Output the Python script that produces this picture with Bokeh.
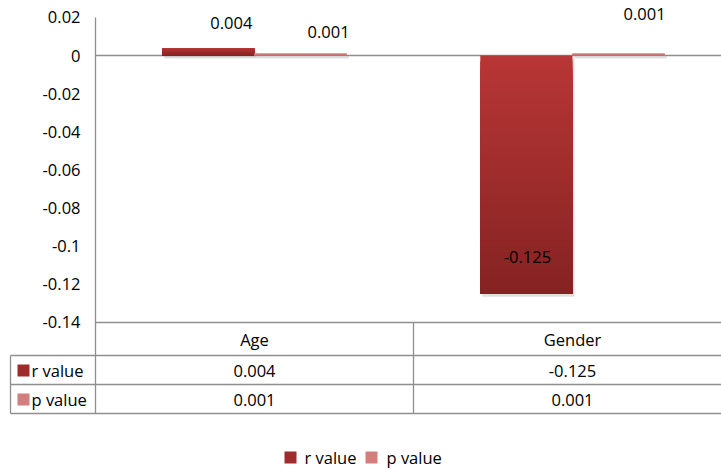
import numpy as np
from bokeh.plotting import figure
from bokeh.models import Range1d
from bokeh.core.properties import value
from bokeh.embed import file_html
from bokeh.resources import INLINE

# ---- data ----
categories = ["Age", "Gender"]
series_names = ["r value", "p value"]
r_values = [0.004, -0.125]
p_values = [0.001, 0.001]
y_ticks = [0.02, 0.0, -0.02, -0.04, -0.06, -0.08, -0.1, -0.12, -0.14]
y_tick_labels = ["0.02", "0", "-0.02", "-0.04", "-0.06", "-0.08", "-0.1", "-0.12", "-0.14"]
r_labels = ["0.004", "-0.125"]
p_labels = ["0.001", "0.001"]

# ---- layout (pixels) ----
W, H = 721, 470
PLOT_LEFT = 95          # x of the value axis
CAT_PX = 318            # width of one category slot
Y0_PX = 55              # y of value 0
PX_PER_UNIT = 1906.0    # pixels per 1.0 of value
FONT = value("Open Sans")
FS = "16.5px"
GRID = "#8f8f8f"

def xv(px):
    return (px - PLOT_LEFT) / CAT_PX

def yv(px):
    return (Y0_PX - px) / PX_PER_UNIT

p = figure(width=W, height=H, output_backend="svg", toolbar_location=None,
           x_range=Range1d(xv(0), xv(W)), y_range=Range1d(yv(H), yv(0)),
           x_axis_location=None, y_axis_location=None, min_border=0)
p.grid.visible = False
p.outline_line_color = None
p.background_fill_color = "white"
p.border_fill_color = "white"

BAR_W = 0.29
OFFSETS = [-0.145, 0.145]
R_TOP, R_BOT = np.array([0xB8, 0x36, 0x36]), np.array([0x86, 0x22, 0x22])
P_TOP, P_BOT = np.array([0xE2, 0x92, 0x92]), np.array([0xC4, 0x68, 0x68])

def hexcol(c):
    c = np.clip(np.round(c), 0, 255).astype(int)
    return "#%02x%02x%02x" % tuple(c)

def gradient_bar(xc, v, ctop, cbot, n=40):
    top, bot = max(v, 0.0), min(v, 0.0)
    # soft shadow
    dx, dy = 2 / CAT_PX, 3 / PX_PER_UNIT
    p.quad(left=[xc - BAR_W / 2 + dx], right=[xc + BAR_W / 2 + dx],
           top=[top - dy], bottom=[bot - dy], fill_color="#000000",
           fill_alpha=0.12, line_color=None)
    # vertical gradient: each band runs to the bar's end, later bands cover lower parts
    starts = np.linspace(top, bot, n + 1)[:-1]
    t = np.linspace(0, 1, n)
    cols = [hexcol(ctop + (cbot - ctop) * k) for k in t]
    p.quad(left=[xc - BAR_W / 2] * n, right=[xc + BAR_W / 2] * n,
           top=list(starts), bottom=[bot] * n,
           fill_color=cols, line_color=None)

# zero line
p.segment(x0=[xv(PLOT_LEFT)], y0=[0], x1=[xv(W)], y1=[0], line_color=GRID, line_width=1.3)

for i, cat in enumerate(categories):
    gradient_bar(i + 0.5 + OFFSETS[0], r_values[i], R_TOP, R_BOT)
    gradient_bar(i + 0.5 + OFFSETS[1], p_values[i], P_TOP, P_BOT)

# value labels (screen offsets from each bar's end, upward positive)
r_lab_off = [(23, 25), (1, 37)]
p_lab_off = [(28, 22), (26, 40)]
for i in range(len(categories)):
    p.text(x=[i + 0.5 + OFFSETS[0]], y=[r_values[i]], text=[r_labels[i]],
           x_offset=r_lab_off[i][0], y_offset=-r_lab_off[i][1],
           text_font=FONT, text_font_size=FS, text_align="center",
           text_baseline="middle", text_color="black")
    p.text(x=[i + 0.5 + OFFSETS[1]], y=[p_values[i]], text=[p_labels[i]],
           x_offset=p_lab_off[i][0], y_offset=-p_lab_off[i][1],
           text_font=FONT, text_font_size=FS, text_align="center",
           text_baseline="middle", text_color="black")

# value axis
p.segment(x0=[0], y0=[y_ticks[0]], x1=[0], y1=[yv(413)], line_color=GRID, line_width=1.3)
p.text(x=[xv(80)] * len(y_ticks), y=y_ticks, text=y_tick_labels,
       text_font=FONT, text_font_size=FS, text_align="right",
       text_baseline="middle", text_color="black")

# data table
row_px = [322, 355, 384, 413]
hx0 = [xv(PLOT_LEFT), xv(10), xv(10), xv(10)]
p.segment(x0=hx0, y0=[yv(r) for r in row_px], x1=[xv(W)] * 4, y1=[yv(r) for r in row_px],
          line_color=GRID, line_width=1.3)
p.segment(x0=[xv(10), 1.0, 2.0], y0=[yv(355), yv(322), yv(322)],
          x1=[xv(10), 1.0, 2.0], y1=[yv(413)] * 3, line_color=GRID, line_width=1.3)

row_c = [yv(339), yv(370), yv(399)]
cat_x = [i + 0.5 for i in range(len(categories))]
for row, texts in zip(row_c, [categories, r_labels, p_labels]):
    p.text(x=cat_x, y=[row] * len(categories), text=texts,
           text_font=FONT, text_font_size=FS, text_align="center",
           text_baseline="middle", text_color="black")

sw_cols = [hexcol((R_TOP + R_BOT) / 2), hexcol((P_TOP + P_BOT) / 2)]
p.scatter(x=[xv(23)] * 2, y=row_c[1:], marker="square", size=12,
          fill_color=sw_cols, line_color=None)
p.text(x=[xv(31)] * 2, y=row_c[1:], text=series_names,
       text_font=FONT, text_font_size=FS, text_align="left",
       text_baseline="middle", text_color="black")

# legend
leg_y = yv(457)
p.scatter(x=[xv(290), xv(371)], y=[leg_y] * 2, marker="square", size=12,
          fill_color=sw_cols, line_color=None)
p.text(x=[xv(304), xv(386)], y=[leg_y] * 2, text=series_names,
       text_font=FONT, text_font_size=FS, text_align="left",
       text_baseline="middle", text_color="black")

open("out.html", "w").write(file_html(p, INLINE))
